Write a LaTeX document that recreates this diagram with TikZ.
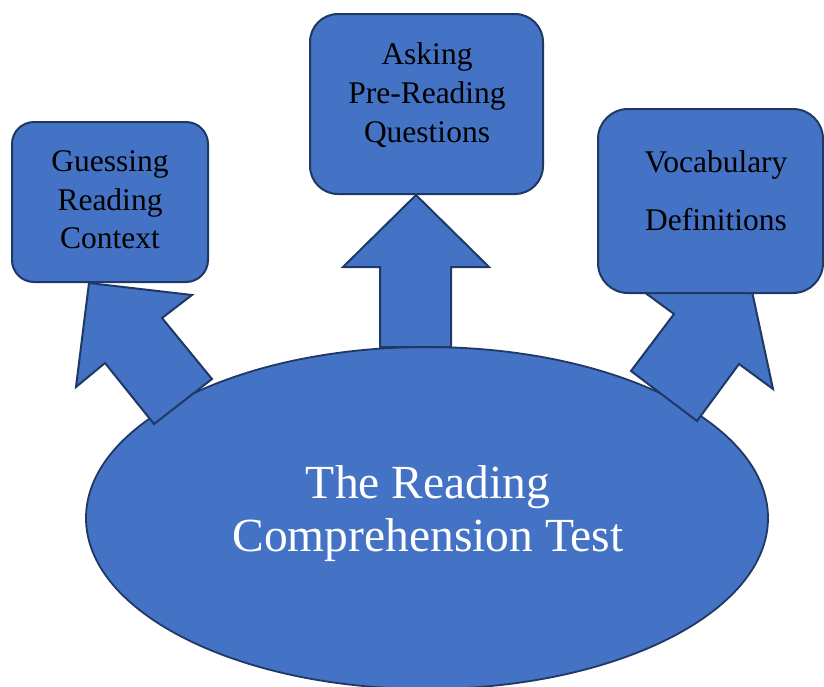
\documentclass[tikz,border=0pt]{standalone}
\usepackage{fontspec}
\setmainfont{Liberation Serif}
\usetikzlibrary{shapes.geometric}
\definecolor{fillblue}{HTML}{4472C4}
\definecolor{edgeblue}{HTML}{1F3864}
\tikzset{
  blob/.style={ellipse, fill=fillblue, draw=edgeblue, line width=1.8pt, inner sep=0pt},
  rbox/.style={rectangle, rounded corners=#1, fill=fillblue, draw=edgeblue, line width=2pt, inner sep=0pt},
  blockarrow/.style={fill=fillblue, draw=edgeblue, line width=2pt, line join=miter},
  boxtext/.style={anchor=base, inner sep=0pt, text=black, font=\fontsize{31.5}{38}\selectfont},
  bigtext/.style={anchor=base, inner sep=0pt, text=white, font=\fontsize{47.5}{54}\selectfont}
}
\begin{document}
\begin{tikzpicture}[x=1pt, y=-1pt]
\useasboundingbox (0,0) rectangle (824,686);
% central ellipse
\node[blob, minimum width=682pt, minimum height=342pt] (rct) at (427,518) {};
% block arrows
\draw[blockarrow] (89,283) -- (192,295) -- (162,318) -- (212,379) -- (154,424) -- (105,363) -- (76,387) -- cycle;
\draw[blockarrow] (416,195) -- (489,267) -- (451,267) -- (451,347) -- (380,347) -- (380,267) -- (343,267) -- cycle;
\draw[blockarrow] (750,282) -- (773,389) -- (739,364) -- (697,421) -- (631,371) -- (674,314) -- (640,289) -- cycle;
% boxes
\node[rbox=22pt, minimum width=196pt, minimum height=160pt] (guess) at (110,202) {};
\node[rbox=28pt, minimum width=233pt, minimum height=180pt] (ask) at (426.5,104) {};
\node[rbox=30pt, minimum width=225pt, minimum height=184pt] (vocab) at (710.5,201) {};
% texts
\node[boxtext] (g1) at (110,171) {Guessing};
\node[boxtext] (g2) at (110,210) {Reading};
\node[boxtext] (g3) at (110,248) {Context};
\node[boxtext] (a1) at (427,64) {Asking};
\node[boxtext] (a2) at (427,103) {Pre-Reading};
\node[boxtext] (a3) at (427,142) {Questions};
\node[boxtext] (v1) at (716,172) {Vocabulary};
\node[boxtext] (v2) at (716,230) {Definitions};
\node[bigtext] (t1) at (428,498) {The Reading};
\node[bigtext] (t2) at (428,551) {Comprehension Test};
\end{tikzpicture}
\end{document}
